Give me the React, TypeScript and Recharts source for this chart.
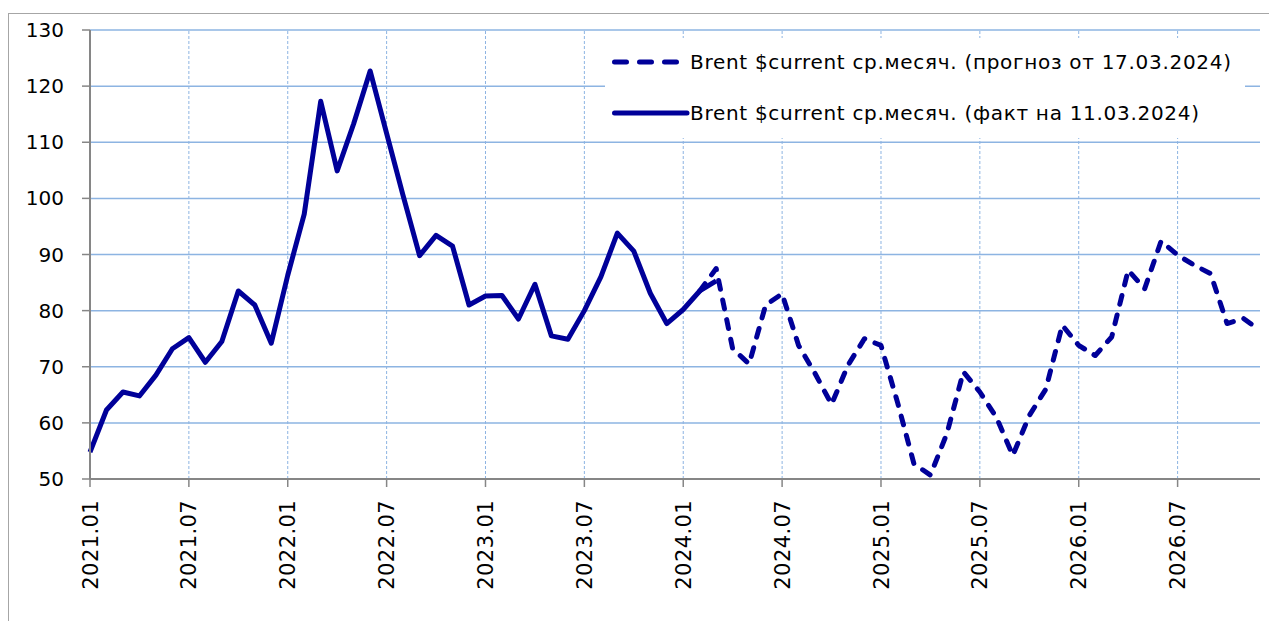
import React from "react";
import { LineChart, Line, XAxis, YAxis, CartesianGrid, ReferenceLine } from "recharts";

const months: string[] = [
  "2021.01","2021.02","2021.03","2021.04","2021.05","2021.06","2021.07","2021.08","2021.09","2021.10","2021.11","2021.12",
  "2022.01","2022.02","2022.03","2022.04","2022.05","2022.06","2022.07","2022.08","2022.09","2022.10","2022.11","2022.12",
  "2023.01","2023.02","2023.03","2023.04","2023.05","2023.06","2023.07","2023.08","2023.09","2023.10","2023.11","2023.12",
  "2024.01","2024.02","2024.03","2024.04","2024.05","2024.06","2024.07","2024.08","2024.09","2024.10","2024.11","2024.12",
  "2025.01","2025.02","2025.03","2025.04","2025.05","2025.06","2025.07","2025.08","2025.09","2025.10","2025.11","2025.12",
  "2026.01","2026.02","2026.03","2026.04","2026.05","2026.06","2026.07","2026.08","2026.09","2026.10","2026.11","2026.12",
];

// fact: 2021.01 .. 2024.03
const factValues: number[] = [
  54.8, 62.3, 65.5, 64.8, 68.5, 73.2, 75.2, 70.8, 74.5, 83.5, 81.0, 74.2,
  86.3, 97.2, 117.3, 104.9, 113.3, 122.7, 111.6, 100.5, 89.8, 93.4, 91.5, 81.0,
  82.6, 82.7, 78.5, 84.7, 75.5, 74.9, 80.0, 86.0, 93.8, 90.6, 83.1, 77.7,
  80.2, 83.5, 85.3,
];

// forecast: 2024.02 .. 2026.12
const forecastStart = "2024.02";
const forecastValues: number[] = [
  83.5, 87.5, 73.2, 70.5, 81.0, 83.0, 73.8, 68.8, 63.3, 70.3, 75.0,
  73.8, 63.7, 52.7, 50.7, 58.1, 69.1, 65.5, 61.0, 54.2, 61.3, 66.0, 77.4,
  73.8, 72.0, 75.3, 87.2, 83.9, 92.4, 89.9, 88.1, 86.6, 77.7, 78.6, 76.5,
];

const xTickLabels: string[] = [
  "2021.01","2021.07","2022.01","2022.07","2023.01","2023.07",
  "2024.01","2024.07","2025.01","2025.07","2026.01","2026.07",
];
const yTicks: number[] = [50, 60, 70, 80, 90, 100, 110, 120, 130];

const legendForecast = "Brent $current ср.месяч. (прогноз от 17.03.2024)";
const legendFact = "Brent $current ср.месяч. (факт на 11.03.2024)";

const fStartIdx = months.indexOf(forecastStart);
const data = months.map((m, i) => ({
  month: m,
  fact: i < factValues.length ? factValues[i] : null,
  forecast: i >= fStartIdx && i - fStartIdx < forecastValues.length ? forecastValues[i - fStartIdx] : null,
}));

const LINE = "#000099";
const GRID = "#8DB4E2";
const AXIS = "#868686";
const FONT = "DejaVu Sans";

const XTick = (props: any) => {
  const { x, y, payload } = props;
  return (
    <text
      x={x}
      y={y}
      transform={`rotate(-90, ${x}, ${y})`}
      textAnchor="end"
      dy="0.36em"
      fontSize={21}
      fontFamily={FONT}
      fill="#000"
      style={{ letterSpacing: "0.4px" }}
    >
      {payload.value}
    </text>
  );
};

export default function App() {
  return (
    <div style={{ position: "absolute", left: 0, top: 0, width: 1269, height: 621, background: "#fff", fontFamily: FONT }}>
      <div
        style={{
          position: "absolute",
          left: 8,
          top: 13,
          width: 1261,
          height: 608,
          borderLeft: "1px solid #a6a6a6",
          borderTop: "1px solid #a6a6a6",
          boxSizing: "border-box",
        }}
      />
      <div style={{ position: "absolute", left: 0, top: 0 }}>
        <LineChart width={1269} height={621} data={data} margin={{ top: 30, right: 9, bottom: 42, left: 0 }}>
          <CartesianGrid horizontal vertical={false} stroke={GRID} strokeWidth={1.5} />
          {xTickLabels.slice(1).map((l) => (
            <ReferenceLine key={l} x={l} stroke={GRID} strokeWidth={1} strokeDasharray="3 2" ifOverflow="visible" />
          ))}
          <XAxis
            dataKey="month"
            interval={5}
            height={100}
            tickSize={8}
            tickMargin={13}
            axisLine={{ stroke: AXIS, strokeWidth: 2 }}
            tickLine={{ stroke: AXIS, strokeWidth: 1.5 }}
            tick={<XTick />}
            padding={{ left: 0, right: 0 }}
          />
          <YAxis
            domain={[50, 130]}
            ticks={yTicks}
            width={90}
            tickSize={8}
            tickMargin={18}
            interval={0}
            axisLine={{ stroke: AXIS, strokeWidth: 2 }}
            tickLine={{ stroke: AXIS, strokeWidth: 1.5 }}
            tick={{ fontSize: 20, fill: "#000", fontFamily: FONT }}
          />
          <Line
            dataKey="forecast"
            type="linear"
            stroke={LINE}
            strokeWidth={5}
            strokeDasharray="9 11"
            strokeLinecap="round"
            strokeLinejoin="round"
            dot={false}
            activeDot={false}
            connectNulls={false}
            isAnimationActive={false}
          />
          <Line
            dataKey="fact"
            type="linear"
            stroke={LINE}
            strokeWidth={5}
            strokeLinejoin="round"
            dot={false}
            activeDot={false}
            connectNulls={false}
            isAnimationActive={false}
          />
        </LineChart>
      </div>
      <div
        style={{
          position: "absolute",
          left: 605,
          top: 38,
          width: 640,
          height: 100,
          background: "#fff",
        }}
      >
        <svg width={640} height={100} style={{ position: "absolute", left: 0, top: 0 }}>
          <line x1={9.5} y1={24} x2={73} y2={24} stroke={LINE} strokeWidth={5} strokeDasharray="12 13" strokeLinecap="round" />
          <line x1={9.5} y1={75} x2={82} y2={75} stroke={LINE} strokeWidth={5} strokeLinecap="round" />
          <text x={85} y={24} dy="0.36em" fontSize={20} fontFamily={FONT} fill="#000" style={{ letterSpacing: "0.7px" }}>
            {legendForecast}
          </text>
          <text x={85} y={75} dy="0.36em" fontSize={20} fontFamily={FONT} fill="#000" style={{ letterSpacing: "0.7px" }}>
            {legendFact}
          </text>
        </svg>
      </div>
    </div>
  );
}
